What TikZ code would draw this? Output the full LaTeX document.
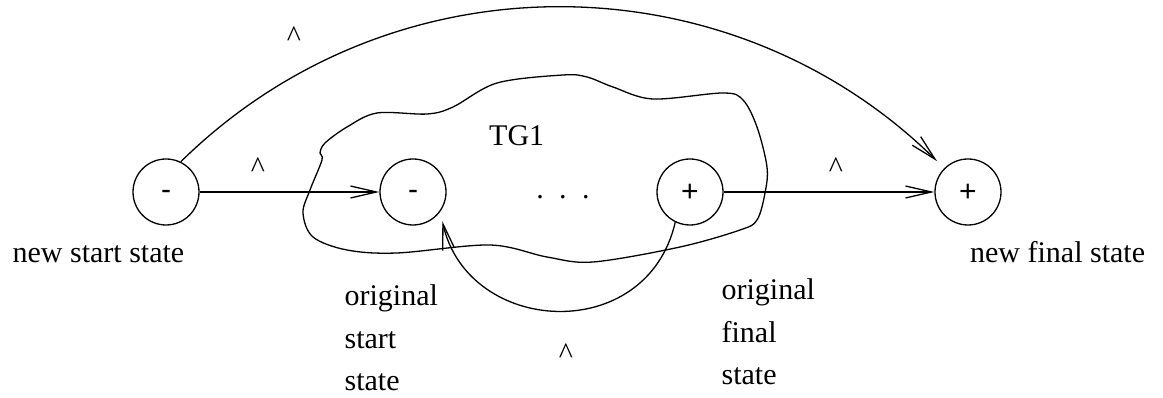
\documentclass[tikz,border=0pt]{standalone}
\usepackage{fontspec}
\setmainfont{Liberation Serif}
\newfontfamily\sansfam{Liberation Sans}
\usetikzlibrary{arrows.meta}
\begin{document}
\begin{tikzpicture}[x=1pt,y=1pt, line width=1.3pt,
  stat/.style={circle,draw,minimum size=66pt,inner sep=0pt,font=\sansfam\fontsize{30}{36}\selectfont},
  mtxt/.style={text height=16pt,text depth=0pt},
  ptxt/.style={text height=19pt,text depth=0pt},
  lbl/.style={font=\fontsize{30}{36}\selectfont, inner sep=0pt},
  arr/.style={-{Straight Barb[length=26pt,width=12pt]}},
]
\useasboundingbox (0,0) rectangle (1163,398);

% TG1 outline
\draw[line width=1.3pt] plot[smooth cycle, tension=0.55] coordinates {
 (322,238) (320,245) (325,255) (347,271) (377,285) (427,284) (453,291) (497,315)
 (563,323) (587,321) (613,311) (653,299) (723,305) (743,298) (757,271) (767,231)
 (765,205) (757,178) (740,168) (680,151) (593,136) (547,141) (490,153) (397,145)
 (347,148) (313,161) (303,185) (310,208)};

\node[stat,mtxt] (A) at (166,206) {-};
\node[stat,mtxt] (B) at (413,206) {-};
\node[stat,ptxt] (C) at (690,206) {+};
\node[stat,ptxt] (D) at (968,206) {+};

\draw[arr] (A) -- (B);
\draw[arr] (C) -- (D);
\draw[arr, shorten >=10pt] (A.64) to[out=44.5,in=135.5,looseness=1] (D.135);
\draw[arr, shorten >=9.5pt] (C.-116) to[out=-103,in=-77.4,looseness=1.38] (B.-36);

\node[lbl, anchor=base] (l1) at (258,220) {\textasciicircum};
\node[lbl, anchor=base] (l2) at (836,220) {\textasciicircum};
\node[lbl, anchor=base] (l3) at (294,351) {\textasciicircum};
\node[lbl, anchor=base] (l4) at (566,34) {\textasciicircum};

\node[lbl, anchor=base] (tg) at (516.7,252) {TG1};
\node[lbl, anchor=base] (dots) at (563,199) {.\hspace{15.5pt}.\hspace{15.5pt}.};

\node[lbl, anchor=base west] (ns) at (12,135.3) {new start state};
\node[lbl, anchor=base west] (nf) at (969.5,135.3) {new final state};

\node[lbl, anchor=base west] (os1) at (344,92) {original};
\node[lbl, anchor=base west] (os2) at (344,49.5) {start};
\node[lbl, anchor=base west] (os3) at (344,7) {state};

\node[lbl, anchor=base west] (of1) at (721,98) {original};
\node[lbl, anchor=base west] (of2) at (721,55.5) {final};
\node[lbl, anchor=base west] (of3) at (721,13) {state};
\end{tikzpicture}
\end{document}
